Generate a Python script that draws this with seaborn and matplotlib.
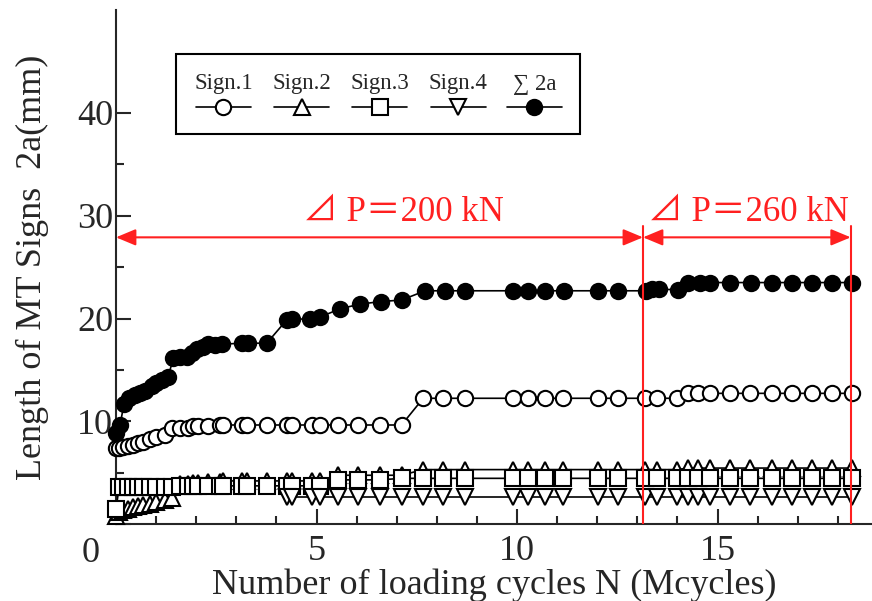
import numpy as np
import seaborn as sns
import matplotlib.pyplot as plt
from matplotlib.offsetbox import VPacker

sns.set_style("ticks")
plt.rcParams['font.family'] = ['Liberation Serif', 'Noto Sans CJK JP', 'DejaVu Sans']

nan = np.nan

# loading cycles (Mcycles) where the single signs were measured
N_sign = [0.0, 0.08, 0.18, 0.31, 0.43, 0.56, 0.68, 0.85, 1.01, 1.22,
          1.39, 1.6, 1.8, 1.93, 2.05, 2.3, 2.59, 2.68, 3.13, 3.26,
          3.76, 4.26, 4.38, 4.88, 5.09, 5.54, 6.04, 6.58, 7.12, 7.66,
          8.15, 8.7, 9.89, 10.28, 10.7, 11.15, 12.03, 12.51, 13.2, 13.5,
          13.98, 14.27, 14.52, 14.81, 15.31, 15.81, 16.35, 16.85, 17.35, 17.85,
          18.35]

sign1 = [7.37, 7.37, 7.47, 7.6, 7.7, 7.86, 8.0, 8.25, 8.5, 8.67,
         9.3, 9.38, 9.38, 9.5, 9.54, 9.54, 9.64, 9.64, 9.64, 9.64,
         9.64, 9.64, 9.64, 9.64, 9.64, 9.64, 9.64, 9.64, 9.64, 12.24,
         12.24, 12.24, 12.24, 12.24, 12.24, 12.24, 12.24, 12.24, 12.24, 12.24,
         12.24, 12.72, 12.72, 12.72, 12.72, 12.72, 12.72, 12.72, 12.72, 12.72,
         12.72]

sign2 = [0.8, 1.2, 1.35, 1.5, 1.65, 1.8, 1.9, 2.0, 2.15, 2.35,
         2.55, 3.9, 3.9, 4.0, 4.0, 4.1, 4.1, 4.2, 4.2, 4.2,
         4.2, 4.2, 4.2, 4.2, 4.2, 4.75, 4.75, 4.75, 4.75, 5.3,
         5.3, 5.3, 5.3, 5.3, 5.3, 5.3, 5.3, 5.3, 5.3, 5.3,
         5.3, 5.45, 5.45, 5.45, 5.45, 5.45, 5.45, 5.45, 5.45, 5.45,
         5.45]

sign3 = [1.43, 3.63, 3.63, 3.63, 3.63, 3.63, 3.63, 3.63, 3.63, 3.63,
         3.63, 3.72, 3.72, 3.72, 3.72, 3.72, 3.72, 3.72, 3.72, 3.72,
         3.72, 3.72, 3.72, 3.72, 3.72, 4.3, 4.3, 4.3, 4.45, 4.45,
         4.45, 4.45, 4.45, 4.45, 4.45, 4.45, 4.45, 4.45, 4.45, 4.45,
         4.45, 4.45, 4.45, 4.45, 4.45, 4.45, 4.45, 4.45, 4.45, 4.45,
         4.45]

sign4 = [nan, nan, nan, nan, nan, nan, nan, nan, nan, nan,
         nan, nan, nan, nan, nan, nan, nan, nan, nan, nan,
         nan, 2.6, 2.6, 2.6, 2.6, 2.6, 2.6, 2.6, 2.6, 2.6,
         2.6, 2.6, 2.6, 2.6, 2.6, 2.6, 2.6, 2.6, 2.6, 2.6,
         2.6, 2.6, 2.6, 2.6, 2.6, 2.6, 2.6, 2.6, 2.6, 2.6,
         2.6]

# total length of all signs
N_sum = [0.0, 0.1, 0.2, 0.33, 0.47, 0.6, 0.72, 0.89, 1.01, 1.14,
         1.3, 1.43, 1.6, 1.76, 1.89, 2.01, 2.18, 2.3, 2.47, 2.64,
         3.13, 3.3, 3.76, 4.26, 4.38, 4.84, 5.09, 5.59, 6.08, 6.6,
         7.12, 7.71, 8.2, 8.7, 9.89, 10.28, 10.7, 11.17, 12.03, 12.51,
         13.21, 13.36, 13.55, 14.02, 14.27, 14.56, 14.81, 15.31, 15.83, 16.35,
         16.85, 17.35, 17.85, 18.35]
sum2a = [8.83, 9.6, 11.7, 12.24, 12.56, 12.79, 12.98, 13.44, 13.76, 14.02,
         14.34, 16.13, 16.29, 16.29, 16.62, 17.0, 17.27, 17.53, 17.43, 17.5,
         17.6, 17.6, 17.6, 19.88, 19.95, 19.95, 20.15, 20.95, 21.4, 21.65,
         21.8, 22.7, 22.7, 22.7, 22.7, 22.7, 22.7, 22.7, 22.7, 22.7,
         22.7, 22.85, 22.85, 22.8, 23.5, 23.5, 23.5, 23.5, 23.5, 23.5,
         23.5, 23.5, 23.5, 23.5]

labels = ["Sign.1", "Sign.2", "Sign.3", "Sign.4", "\u2211 2a"]

# load stages
stage_edges = [0.0, 13.14, 18.32]
stage_labels = ["\u22bf P\uff1d200 kN", "\u22bf P\uff1d260 kN"]
stage_label_x = [7.16, 15.76]

fig = plt.figure(figsize=(8.72, 6.01), dpi=100)
ax = fig.add_axes([0.133, 0.128, 0.867, 0.855])

common = dict(color="black", lw=1.2, markeredgecolor="black", markeredgewidth=1.5,
              estimator=None, sort=False, legend=False, ax=ax, clip_on=False)
sns.lineplot(x=N_sign, y=sign1, marker="o", markersize=11, markerfacecolor="white", zorder=3, **common)
sns.lineplot(x=N_sign, y=sign2, marker="^", markersize=12, markerfacecolor="white", zorder=3, **common)
sns.lineplot(x=N_sign, y=sign3, marker="s", markersize=11, markerfacecolor="white", zorder=3, **common)
sns.lineplot(x=N_sign, y=sign4, marker="v", markersize=12, markerfacecolor="white", zorder=3, **common)
sns.lineplot(x=N_sum, y=sum2a, marker="o", markersize=11, markerfacecolor="black", zorder=3, **common)

ax.set_xlim(0, 18.85)
ax.set_ylim(0, 50)
ax.set_xticks([0, 5, 10, 15])
ax.set_xticklabels(["", "5", "10", "15"])
ax.set_xticks(range(1, 19), minor=True)
ax.set_yticks([0, 10, 20, 30, 40])
ax.set_yticklabels(["", "10", "20", "30", "40"])
ax.set_yticks([5, 15, 25, 35], minor=True)
ax.tick_params(which="both", direction="in", width=1.5, labelsize=26)
ax.tick_params(which="major", length=11)
ax.tick_params(which="minor", length=6)
ax.tick_params(axis="x", pad=8)
ax.tick_params(axis="y", pad=2)
ax.text(-0.021, -0.025, "0", transform=ax.transAxes, ha="right", va="top", fontsize=26)
sns.despine(ax=ax)
for s in ["left", "bottom"]:
    ax.spines[s].set_linewidth(1.5)

ax.set_xlabel("Number of loading cycles N (Mcycles)", fontsize=26, labelpad=0)
ax.set_ylabel("Length of MT Signs  2a(mm)", fontsize=26, labelpad=20)

# stage markers
red = "#ff2020"
for xe in stage_edges[1:]:
    ax.plot([xe, xe], [0, 29.0], color=red, lw=1.5, zorder=4)
for i in range(2):
    ax.annotate("", xy=(stage_edges[i + 1], 27.9), xytext=(stage_edges[i], 27.9),
                arrowprops=dict(arrowstyle="<|-|>,head_length=0.6,head_width=0.25",
                                color=red, lw=1.5, shrinkA=0, shrinkB=0, mutation_scale=20))
    ax.text(stage_label_x[i], 30.3, stage_labels[i],
            color=red, fontsize=25, ha="center", va="center")

handles = ax.lines[:5]
leg = ax.legend(handles, labels, ncol=5, loc="upper left", bbox_to_anchor=(0.079, 0.914),
                borderaxespad=0, frameon=True, fancybox=False, edgecolor="black",
                fontsize=16.5, handlelength=2.4, columnspacing=0.85, borderpad=0.8)
leg.get_frame().set_linewidth(1.5)
leg.get_frame().set_alpha(1)
# put each label above its symbol
for col in leg._legend_handle_box.get_children():
    new = []
    for row in col.get_children():
        hbox, tbox = row.get_children()
        new.append(VPacker(pad=0, sep=4, children=[tbox, hbox], align="center"))
    col._children = new
leg._legend_box.set_figure(fig)

fig.savefig("out.png", dpi=100)
